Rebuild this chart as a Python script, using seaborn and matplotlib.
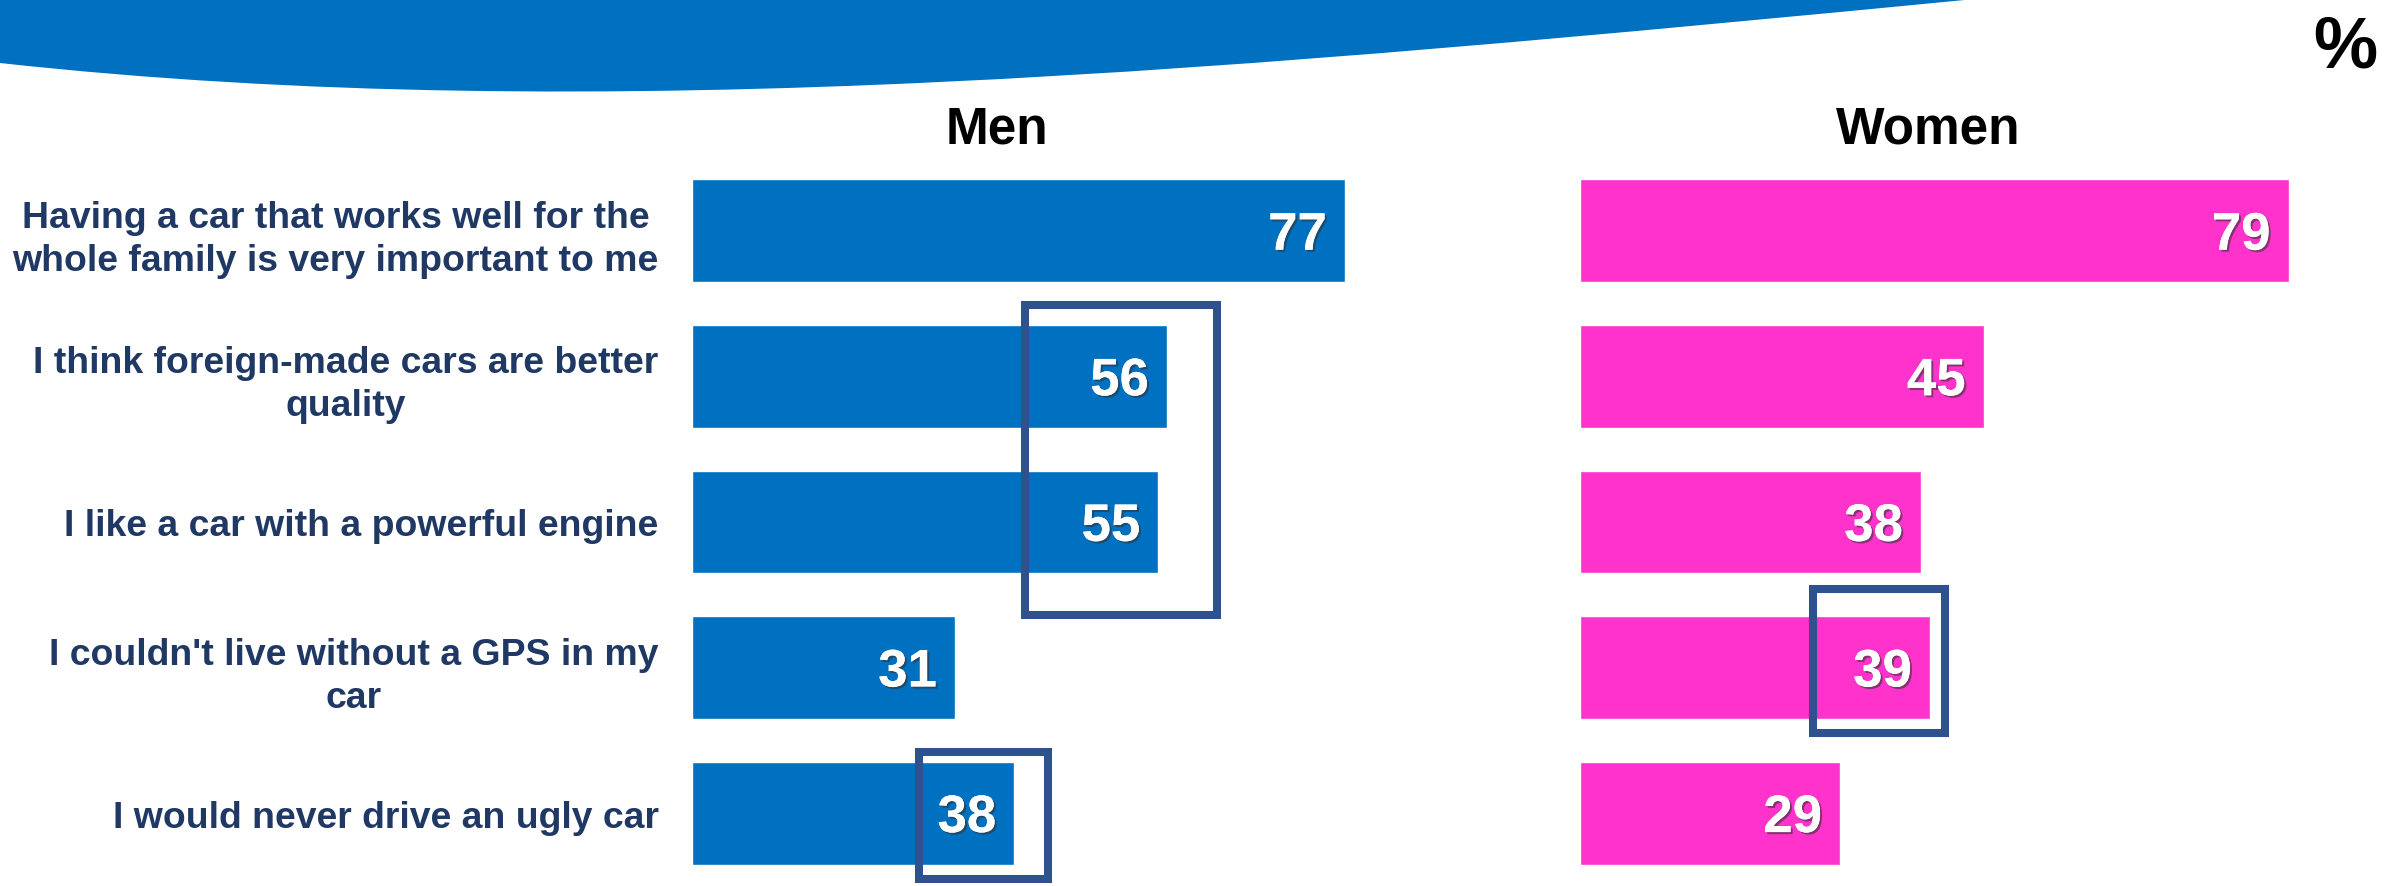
import matplotlib
matplotlib.use("Agg")
import matplotlib.pyplot as plt
import matplotlib.patheffects as pe
from matplotlib.patches import Rectangle, PathPatch
from matplotlib.path import Path
import seaborn as sns
import pandas as pd

# ---------------------------------------------------------------------------
# data
# ---------------------------------------------------------------------------
statements = [
    "Having a car that works well for the\nwhole family is very important to me",
    "I think foreign-made cars are better\nquality",
    "I like a car with a powerful engine",
    "I couldn't live without a GPS in my\ncar",
    "I would never drive an ugly car",
]
men = [77, 56, 55, 31, 38]
women = [79, 45, 38, 39, 29]

MEN_BLUE = "#0070C0"
WOMEN_PINK = "#FF33CC"
NAVY = "#1F3864"
BOX = "#2F528F"

sns.set_style("white")
plt.rcParams["font.family"] = ["Liberation Sans", "DejaVu Sans"]

W, H = 2405, 887
fig = plt.figure(figsize=(W / 100, H / 100), dpi=100)

# decorative wave at the top (figure pixel coords -> fraction)
def fx(px):
    return px / W


def fy(py):
    return 1 - py / H


verts = [(fx(0), fy(0)), (fx(0), fy(64)), (fx(600), fy(130)), (fx(1250), fy(70)),
         (fx(1975), fy(0)), (fx(0), fy(0))]
codes = [Path.MOVETO, Path.LINETO, Path.CURVE4, Path.CURVE4, Path.CURVE4, Path.CLOSEPOLY]
fig.add_artist(PathPatch(Path(verts, codes), transform=fig.transFigure,
                         facecolor=MEN_BLUE, edgecolor="none", zorder=0))

ax_m = fig.add_axes([692 / W, 0, 80 * 8.48 / W, 728 / H])
ax_w = fig.add_axes([1580 / W, 0, 85 * 8.97 / W, 728 / H])

df = pd.DataFrame({"statement": statements, "Men": men, "Women": women})

sns.barplot(data=df, x="Men", y="statement", color=MEN_BLUE, saturation=1,
            width=0.707, orient="h", ax=ax_m)
sns.barplot(data=df, x="Women", y="statement", color=WOMEN_PINK, saturation=1,
            width=0.707, orient="h", ax=ax_w)

ax_m.set_xlim(0, 80)
ax_w.set_xlim(0, 85)
shadow = [pe.withSimplePatchShadow(offset=(1.5, -1.5), shadow_rgbFace="#333333", alpha=0.6),
          pe.Normal()]
for ax, vals in ((ax_m, men), (ax_w, women)):
    ax.set_ylim(4.5, -0.5)
    ax.set_xlabel("")
    ax.set_ylabel("")
    ax.set_xticks([])
    sns.despine(ax=ax, left=True, bottom=True)
    for i, v in enumerate(vals):
        ax.annotate(str(v), xy=(v, i), xytext=(-13, -3.5), textcoords="offset points",
                    ha="right", va="center", color="white", fontsize=38,
                    fontweight="bold", path_effects=shadow)

ax_m.tick_params(axis="y", length=0, pad=24)
for lab in ax_m.get_yticklabels():
    lab.set_fontsize(26.9)
    lab.set_fontweight("bold")
    lab.set_color(NAVY)
    lab.set_multialignment("center")
    lab.set_linespacing(1.3)
ax_w.set_yticks([])

# highlight boxes
for ax, x0, x1, y0, y1 in ((ax_m, 39.3, 61.9, 0.51, 2.64),
                           (ax_m, 26.8, 42.0, 3.58, 4.45),
                           (ax_w, 26.0, 40.7, 2.46, 3.45)):
    ax.add_patch(Rectangle((x0, y0), x1 - x0, y1 - y0, fill=False, edgecolor=BOX,
                           linewidth=5.8, clip_on=False, zorder=5))

fig.text(997 / W, fy(130), "Men", ha="center", va="center", fontsize=37,
         fontweight="bold", color="black")
fig.text(1928 / W, fy(130), "Women", ha="center", va="center", fontsize=37,
         fontweight="bold", color="black")
fig.text(2345 / W, fy(48), "%", ha="center", va="center", fontsize=52,
         fontweight="bold", color="black")

fig.savefig("out.png", dpi=100)
